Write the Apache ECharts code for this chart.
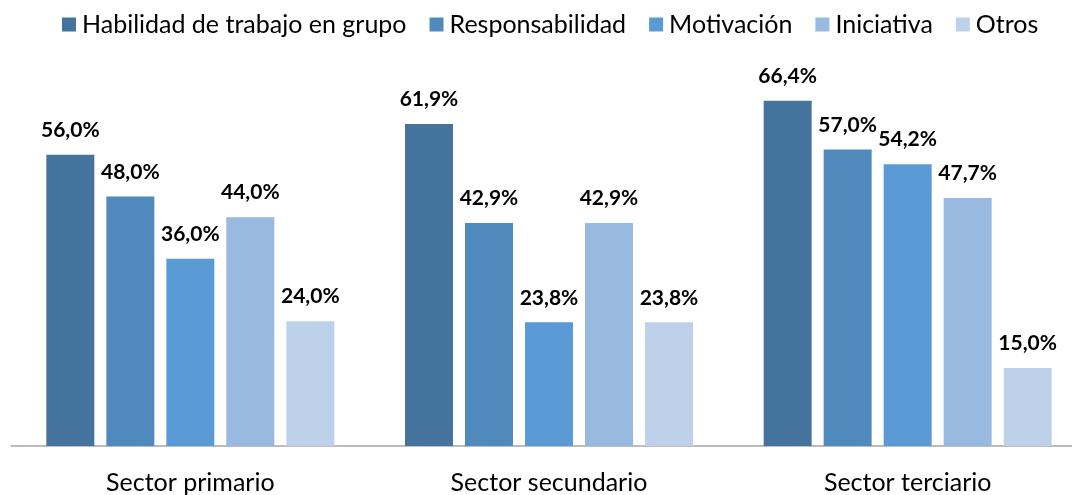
<!DOCTYPE html>
<html>
<head>
<meta charset="utf-8">
<script src="https://cdn.jsdelivr.net/npm/echarts@6/dist/echarts.min.js"></script>
<style>
  html, body { margin: 0; padding: 0; background: #fff; overflow: hidden; }
  #chart { width: 1087px; height: 495px; }
</style>
</head>
<body>
<div id="chart"></div>
<script>
// Sectors on the category axis
const sectors = ['Sector primario', 'Sector secundario', 'Sector terciario'];

// Share of mentions per skill, in percent, one value per sector
const habilidadGrupo = [56.0, 61.9, 66.4];
const responsabilidad = [48.0, 42.9, 57.0];
const motivacion = [36.0, 23.8, 54.2];
const iniciativa = [44.0, 42.9, 47.7];
const otros = [24.0, 23.8, 15.0];

const seriesNames = ['Habilidad de trabajo en grupo', 'Responsabilidad', 'Motivación', 'Iniciativa', 'Otros'];
const seriesValues = [habilidadGrupo, responsabilidad, motivacion, iniciativa, otros];
const seriesColors = ['#44739d', '#508abd', '#5b9bd5', '#98b9e0', '#bed1ea'];

const FONT = 'Lato, "Open Sans", sans-serif';

const chart = echarts.init(document.getElementById('chart'));

chart.setOption({
  animation: false,
  textStyle: { fontFamily: FONT },
  legend: {
    top: 12,
    left: 62,
    padding: 0,
    itemWidth: 14,
    itemHeight: 14,
    itemGap: 23,
    icon: 'rect',
    textStyle: { fontSize: 25, color: '#000', fontFamily: FONT, padding: [0, 0, 0, 1] },
    data: seriesNames
  },
  grid: { left: 11, top: 82, right: 0, bottom: 47, containLabel: false },
  xAxis: {
    type: 'category',
    data: sectors,
    axisLine: { show: true, lineStyle: { color: '#a6a6a6', width: 1.5 } },
    axisTick: { show: false },
    axisLabel: { fontSize: 25, color: '#000', margin: 24, fontFamily: FONT }
  },
  yAxis: {
    type: 'value',
    min: 0,
    max: 70,
    show: false,
    splitLine: { show: false }
  },
  series: seriesNames.map((name, i) => ({
    name: name,
    type: 'bar',
    data: seriesValues[i],
    barWidth: 48,
    barGap: '25%',
    itemStyle: { color: seriesColors[i] },
    label: {
      show: true,
      position: 'top',
      distance: 14,
      fontSize: 21,
      fontWeight: 'bold',
      color: '#000',
      fontFamily: FONT,
      formatter: p => p.value.toFixed(1).replace('.', ',') + '%'
    }
  }))
});
</script>
</body>
</html>
